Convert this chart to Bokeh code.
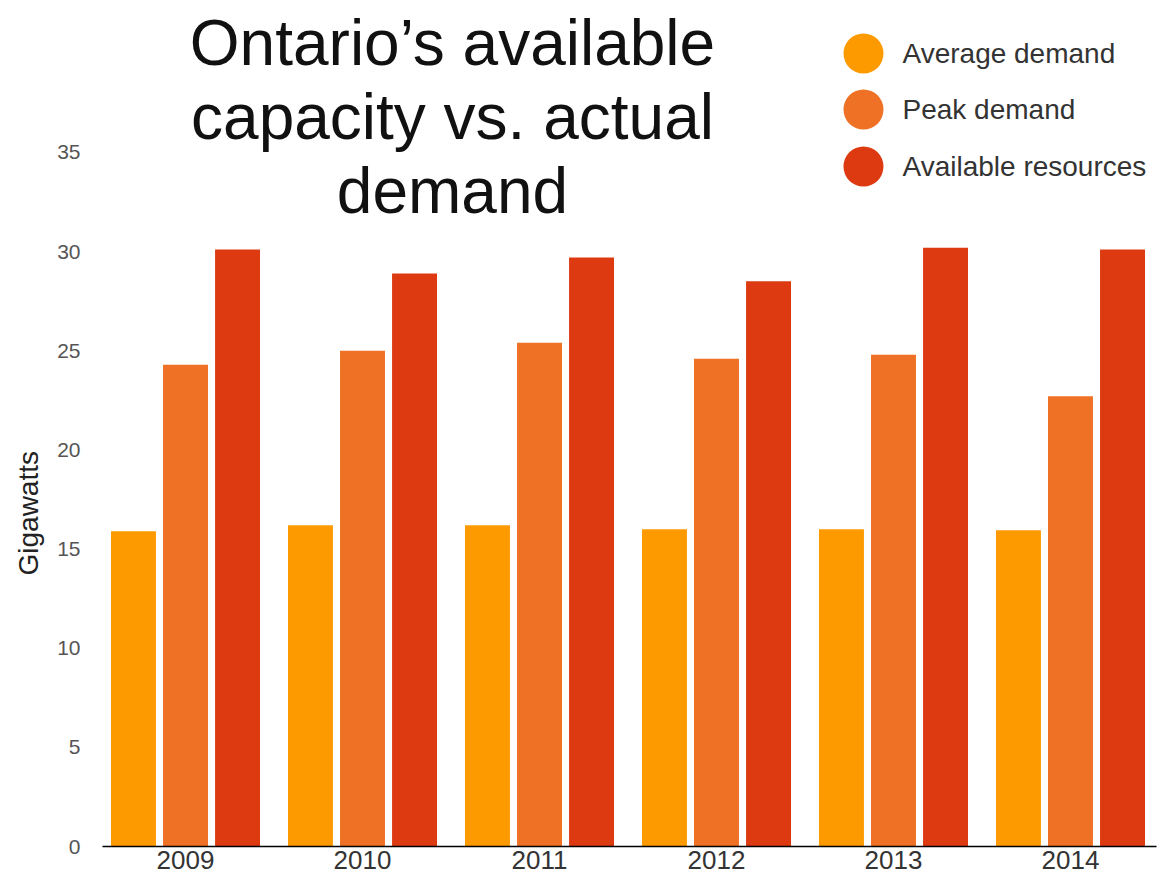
from bokeh.plotting import figure
from bokeh.models import ColumnDataSource, FixedTicker, Range1d, Label, Title
from bokeh.transform import dodge
from bokeh.embed import file_html
from bokeh.resources import INLINE

# ---- data ----
years = ["2009", "2010", "2011", "2012", "2013", "2014"]
average_demand = [15.9, 16.2, 16.2, 16.0, 16.0, 15.95]
peak_demand = [24.3, 25.0, 25.4, 24.6, 24.8, 22.7]
available_resources = [30.1, 28.9, 29.7, 28.5, 30.2, 30.1]
series_names = ["Average demand", "Peak demand", "Available resources"]
series_colors = ["#FD9A00", "#EF7125", "#DD3A12"]
y_ticks = [0, 5, 10, 15, 20, 25, 30, 35]
title_lines = ["Ontario\u2019s available", "capacity vs. actual", "demand"]
y_label = "Gigawatts"

FONT = "Liberation Sans"

idx = list(range(len(years)))
src = ColumnDataSource(dict(x=idx, avg=average_demand, peak=peak_demand, avail=available_resources))

WIDTH, HEIGHT = 1161, 882
FRAME_TOP, BOTTOM_BORDER = 6, 36
FRAME_BOTTOM = HEIGHT - BOTTOM_BORDER
Y_TOP = 42.36
p = figure(width=WIDTH, height=HEIGHT,
           x_range=Range1d(-0.469, 5.486), y_range=Range1d(0, Y_TOP),
           output_backend="svg", toolbar_location=None,
           min_border_left=102, min_border_right=5,
           min_border_top=FRAME_TOP, min_border_bottom=BOTTOM_BORDER)
p.outline_line_color = None
p.xgrid.grid_line_color = None
p.ygrid.grid_line_color = None
p.background_fill_color = "white"
p.border_fill_color = "white"

W = 0.254
OFF = 0.294
for col, off, color in zip(["avg", "peak", "avail"], [-OFF, 0.0, OFF], series_colors):
    p.vbar(x=dodge("x", off, range=p.x_range), top=col, bottom=0, width=W,
           source=src, fill_color=color, line_color=None)

# x axis
p.xaxis.ticker = FixedTicker(ticks=idx)
p.xaxis.major_label_overrides = {i: y for i, y in zip(idx, years)}
p.xaxis.axis_line_color = "black"
p.xaxis.axis_line_width = 1.5
p.xaxis.major_tick_line_color = None
p.xaxis.minor_tick_line_color = None
p.xaxis.major_tick_out = 0
p.xaxis.major_label_standoff = 4
p.xaxis.major_label_text_font = FONT
p.xaxis.major_label_text_font_size = "26px"
p.xaxis.major_label_text_color = "#333333"

# y axis
p.yaxis.ticker = FixedTicker(ticks=y_ticks)
p.yaxis.axis_line_color = None
p.yaxis.major_tick_line_color = None
p.yaxis.minor_tick_line_color = None
p.yaxis.major_tick_out = 0
p.yaxis.major_label_standoff = 22
p.yaxis.major_label_text_font = FONT
p.yaxis.major_label_text_font_size = "21px"
p.yaxis.major_label_text_color = "#555555"

# y axis title, placed along the 0-35 span
p.add_layout(Title(text=y_label, align="left", offset=FRAME_BOTTOM - 575, text_font=FONT,
                   text_font_style="normal", text_font_size="28px",
                   text_color="#222222", standoff=21), "left")

PX = Y_TOP / (FRAME_BOTTOM - FRAME_TOP)  # data units per pixel vertically
def ydata(py):
    return (FRAME_BOTTOM - py) * PX
def xdata(px):
    return (px - 185) / 177.0

# chart title (three centered lines)
for line, cy in zip(title_lines, [42, 116, 190]):
    p.add_layout(Label(x=xdata(452), y=ydata(cy), text=line, text_align="center",
                       text_baseline="middle", text_font=FONT, text_font_size="64px",
                       text_color="#111111"))

# legend
leg_y = [ydata(53), ydata(109), ydata(166)]
p.scatter(x=[xdata(863)] * 3, y=leg_y, size=40, marker="circle",
          fill_color=series_colors, line_color=None)
for name, yy in zip(series_names, leg_y):
    p.add_layout(Label(x=xdata(902), y=yy, text=name, text_align="left",
                       text_baseline="middle", text_font=FONT, text_font_size="28px",
                       text_color="#333333"))

open("out.html", "w").write(file_html(p, INLINE))
